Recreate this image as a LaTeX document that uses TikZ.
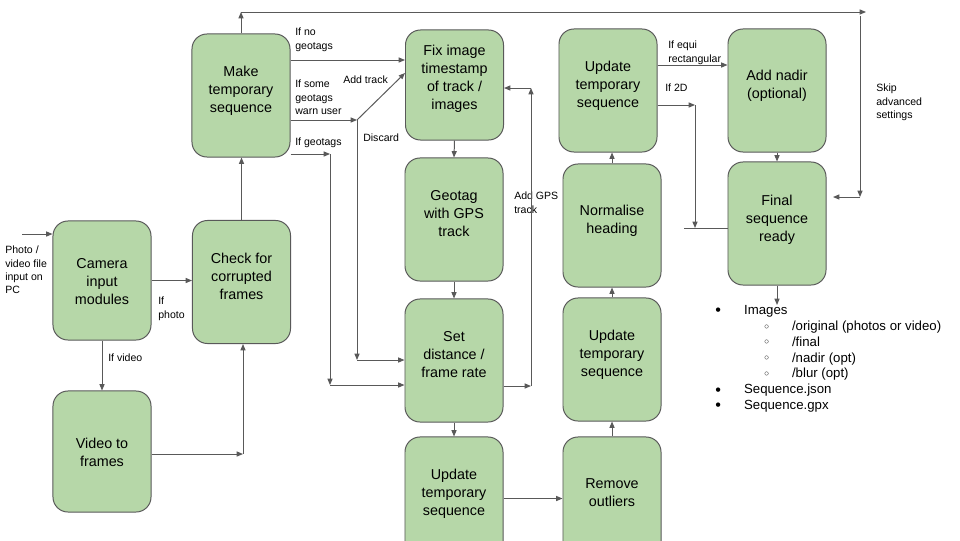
\documentclass[tikz,border=0pt]{standalone}
\usepackage{fontspec}
\setmainfont{Liberation Sans}
\usepackage{tikz}
\usetikzlibrary{arrows.meta,positioning,calc}
\definecolor{Ink}{HTML}{000000}
\definecolor{Edge}{HTML}{595959}
\definecolor{Leaf}{HTML}{B6D7A8}
\newcommand{\boxlines}[2][6pt]{\begin{tabular}{@{}c@{}}#2\\[#1]\end{tabular}}
\newcommand{\dotitem}{\makebox[20.5pt][l]{\raisebox{-0.9pt}{\fontsize{11.5}{11.5}\selectfont •}}}
\newcommand{\ringitem}{\hspace*{34.7pt}\makebox[19.9pt][l]{\raisebox{0.9pt}{\fontsize{6}{6}\selectfont ○}}}

\begin{document}
\begin{tikzpicture}[
  x=0.025cm,y=-0.025cm,
  box/.style={draw=Edge,line width=0.7pt,rounded corners=0.375cm,fill=Leaf,text=Ink,
    font=\fontsize{10.2}{12.8}\selectfont,inner sep=0pt,minimum width=2.45cm,minimum height=3.075cm},
  lbl/.style={font=\fontsize{7.5}{9.4}\selectfont,align=left,inner sep=0pt,anchor=north west,text=Ink},
  listtxt/.style={font=\fontsize{9.4}{11.3}\selectfont,align=left,inner sep=0pt,anchor=north west,text=Ink},
  arr/.style={-{Triangle[length=4.5pt,width=3.6pt]},line width=0.7pt,draw=Edge},
  wire/.style={line width=0.7pt,draw=Edge}]
\useasboundingbox (0,0) rectangle (960,540);
\clip (0,0) rectangle (960,540);
% steps
\node[box,minimum height=2.975cm] (cam) at (102,280.5) {\boxlines[-2.8pt]{Camera\\input\\modules}};
\node[box,minimum height=3.025cm] (video) at (102,451.5) {\boxlines[-2.8pt]{Video to\\frames}};
\node[box] (check) at (241.5,282) {\boxlines{Check for\\corrupted\\frames}};
\node[box] (make) at (241,95.5) {\boxlines{Make\\temporary\\sequence}};
\node[box,minimum height=2.75cm] (fix) at (454.5,85) {\boxlines[8pt]{Fix image\\timestamp\\of track /\\images}};
\node[box] (geotag) at (454,219.5) {\boxlines{Geotag\\with GPS\\track}};
\node[box] (setd) at (454,360.5) {\boxlines{Set\\distance /\\frame rate}};
\node[box] (updA) at (454,498.5) {\boxlines{Update\\temporary\\sequence}};
\node[box] (outliers) at (612,498.5) {\boxlines{Remove\\outliers}};
\node[box] (updB) at (612,359.5) {\boxlines{Update\\temporary\\sequence}};
\node[box] (heading) at (612,225.5) {\boxlines{Normalise\\heading}};
\node[box] (updC) at (608,90.5) {\boxlines{Update\\temporary\\sequence}};
\node[box] (nadir) at (777,90.5) {\boxlines{Add nadir\\(optional)}};
\node[box] (final) at (777,223.5) {\boxlines[5pt]{Final\\sequence\\ready}};
% output folder
\node[listtxt] (files) at (715,305) {\dotitem Images\\
  \ringitem/original (photos or video)\\
  \ringitem/final\\
  \ringitem/nadir (opt)\\
  \ringitem/blur (opt)\\
  \dotitem Sequence.json\\
  \dotitem Sequence.gpx};
% labels
\node[lbl] (lsrc) at (5,246) {Photo /\\video file\\input on\\PC};
\node[lbl] (lphoto) at (158,297) {If\\photo};
\node[lbl] (lvideo) at (108,354) {If video};
\node[lbl] (lnogeo) at (295,28) {If no\\geotags};
\node[lbl] (lwarn) at (295,80) {If some\\geotags\\warn user};
\node[lbl] (ladd) at (343,76) {Add track};
\node[lbl] (lgeo) at (295,138) {If geotags};
\node[lbl] (ldiscard) at (363,134) {Discard};
\node[lbl] (lgps) at (514,192) {Add GPS\\track};
\node[lbl] (lequi) at (668,41) {If equi\\rectangular};
\node[lbl] (lflat) at (665,84) {If 2D};
\node[lbl] (lskip) at (876,84) {Skip\\advanced\\settings};
% input side
\coordinate (src) at (22,234);
\coordinate (vf) at (243,454);
\draw[arr] (src) -- (src -| cam.west);
\draw[arr] (cam.east) -- (cam.east -| check.west);
\draw[arr] (cam.south) -- (video.north);
\draw[arr] (video.east |- vf) -- (vf);
\draw[arr] (vf) -- (vf |- check.south);
\draw[arr] (check.north) -- (check.north |- make.south);
% skip advanced settings
\coordinate (skipA) at (241,12);
\coordinate (skipB) at (866,12);
\coordinate (skipC) at (860,16);
\coordinate (skipD) at (860,197);
\coordinate (skipE) at (833,197);
\draw[arr] (make.north) -- (skipA);
\draw[arr] (skipA) -- (skipB);
\draw[arr] (skipC) -- (skipD);
\draw[arr] (skipD) -- (skipE);
% geotag branches
\coordinate (warn) at (357,120);
\coordinate (discard) at (357,360);
\coordinate (geo) at (330,154);
\coordinate (geoB) at (330,385);
\draw[arr] (make.east |- 0,60) -- (fix.west |- 0,60);
\draw[arr] (make.east |- warn) -- (warn);
\draw[arr] (warn) -- (fix.west |- 0,73);
\draw[arr] (warn) -- (discard);
\draw[arr] (discard) -- (setd.west |- discard);
\draw[arr] (make.east |- geo) -- (geo);
\draw[arr] (geo) -- (geoB);
\draw[arr] (geoB) -- (setd.west |- geoB);
% main chain
\coordinate (gps) at (531,386);
\coordinate (gpsT) at (531,88);
\draw[arr] (fix.south) -- (geotag.north);
\draw[arr] (geotag.south) -- (setd.north);
\draw[arr] (setd.east |- gps) -- (gps);
\draw[arr] (gps) -- (gpsT);
\draw[arr] (gpsT) -- (fix.east |- gpsT);
\draw[arr] (setd.south) -- (updA.north);
\draw[arr] (updA.east) -- (outliers.west);
\draw[arr] (outliers.north) -- (updB.south);
\draw[arr] (updB.north) -- (heading.south);
\draw[arr] (heading.north) -- (heading.north |- updC.south);
% projection
\coordinate (flat) at (695,105);
\coordinate (flatB) at (695,228);
\coordinate (flatC) at (684,228);
\draw[arr] (updC.east |- 0,65) -- (nadir.west |- 0,65);
\draw[arr] (updC.east |- flat) -- (flat);
\draw[arr] (flat) -- (flatB);
\draw[wire] (final.west |- flatC) -- (flatC);
\draw[arr] (nadir.south) -- (final.north);
\draw[arr] (final.south) -- (final.south |- files.north);
\end{tikzpicture}
\end{document}
